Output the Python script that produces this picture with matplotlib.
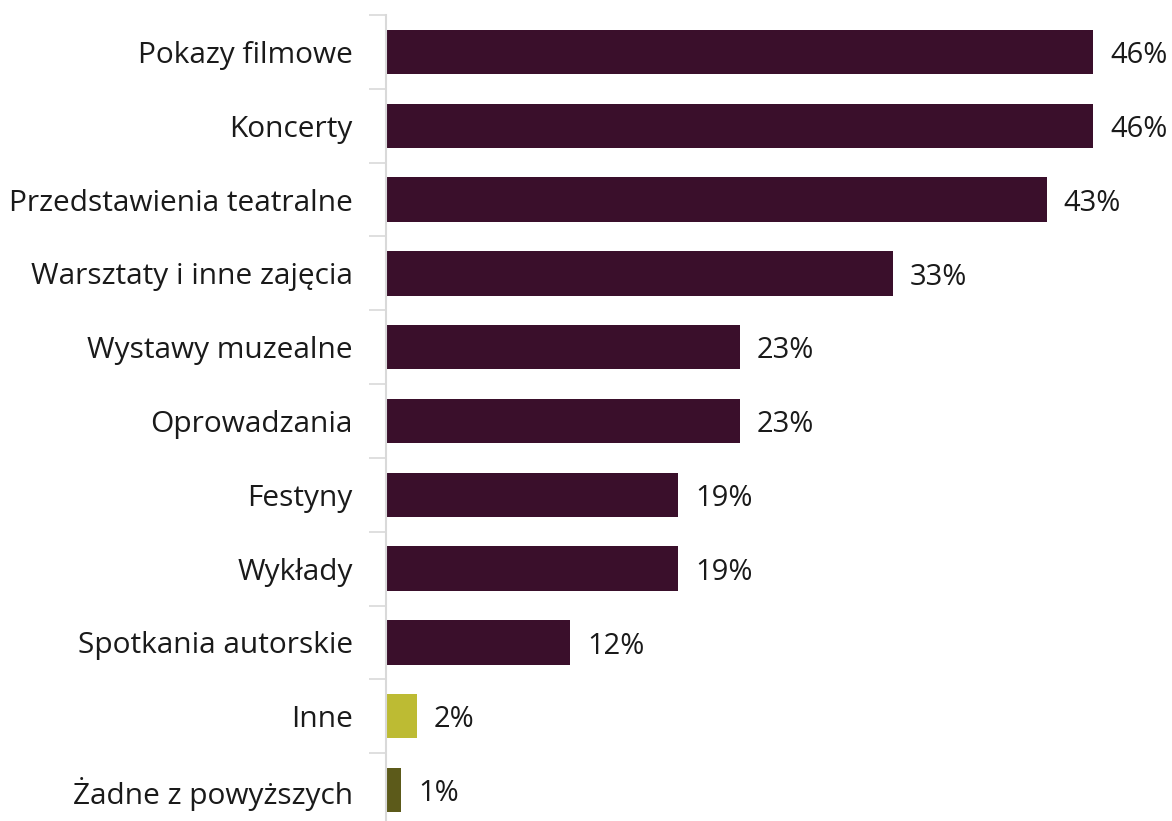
import matplotlib.pyplot as plt

categories = ['Pokazy filmowe', 'Koncerty', 'Przedstawienia teatralne',
              'Warsztaty i inne zajęcia', 'Wystawy muzealne', 'Oprowadzania',
              'Festyny', 'Wykłady', 'Spotkania autorskie', 'Inne',
              'Żadne z powyższych']
values = [46, 46, 43, 33, 23, 23, 19, 19, 12, 2, 1]
bar_colors = ['#3a0f2b'] * 9 + ['#bdbb33', '#5c5a1a']

plt.rcParams['font.family'] = ['Open Sans', 'DejaVu Sans']

W, H = 1172, 821
fig = plt.figure(figsize=(W / 100, H / 100), dpi=100)
# axes placed in pixel terms; bottom runs a little past the figure edge
ax_left, ax_top, ax_bottom = 386, 15, 827
ax = fig.add_axes([ax_left / W, 1 - ax_bottom / H, 1 - ax_left / W, (ax_bottom - ax_top) / H])

ypos = list(range(len(categories)))
ax.barh(ypos, values, height=0.6, color=bar_colors, edgecolor='none')
ax.set_ylim(len(categories) - 0.5, -0.5)
# 46% bar ends at about x=1093 px
ax.set_xlim(0, 46 * (W - ax_left) / (1093 - ax_left))

for y, v in zip(ypos, values):
    ax.text(v + 1.1, y + 0.05, f'{v}%', va='center', ha='left',
            fontsize=21, color='#1a1a1a')

ax.set_yticks(ypos)
ax.set_yticklabels(categories, fontsize=21.5, color='#1a1a1a')
ax.set_yticks([i - 0.5 for i in range(len(categories) + 1)], minor=True)
ax.tick_params(axis='y', which='major', length=0, pad=24)
ax.tick_params(axis='y', which='minor', length=12, width=1.2, color='#d9d9d9')
ax.set_xticks([])

for s in ['top', 'right', 'bottom']:
    ax.spines[s].set_visible(False)
ax.spines['left'].set_color('#d9d9d9')
ax.spines['left'].set_linewidth(1.5)

fig.savefig('out.png', dpi=100, facecolor='white')
